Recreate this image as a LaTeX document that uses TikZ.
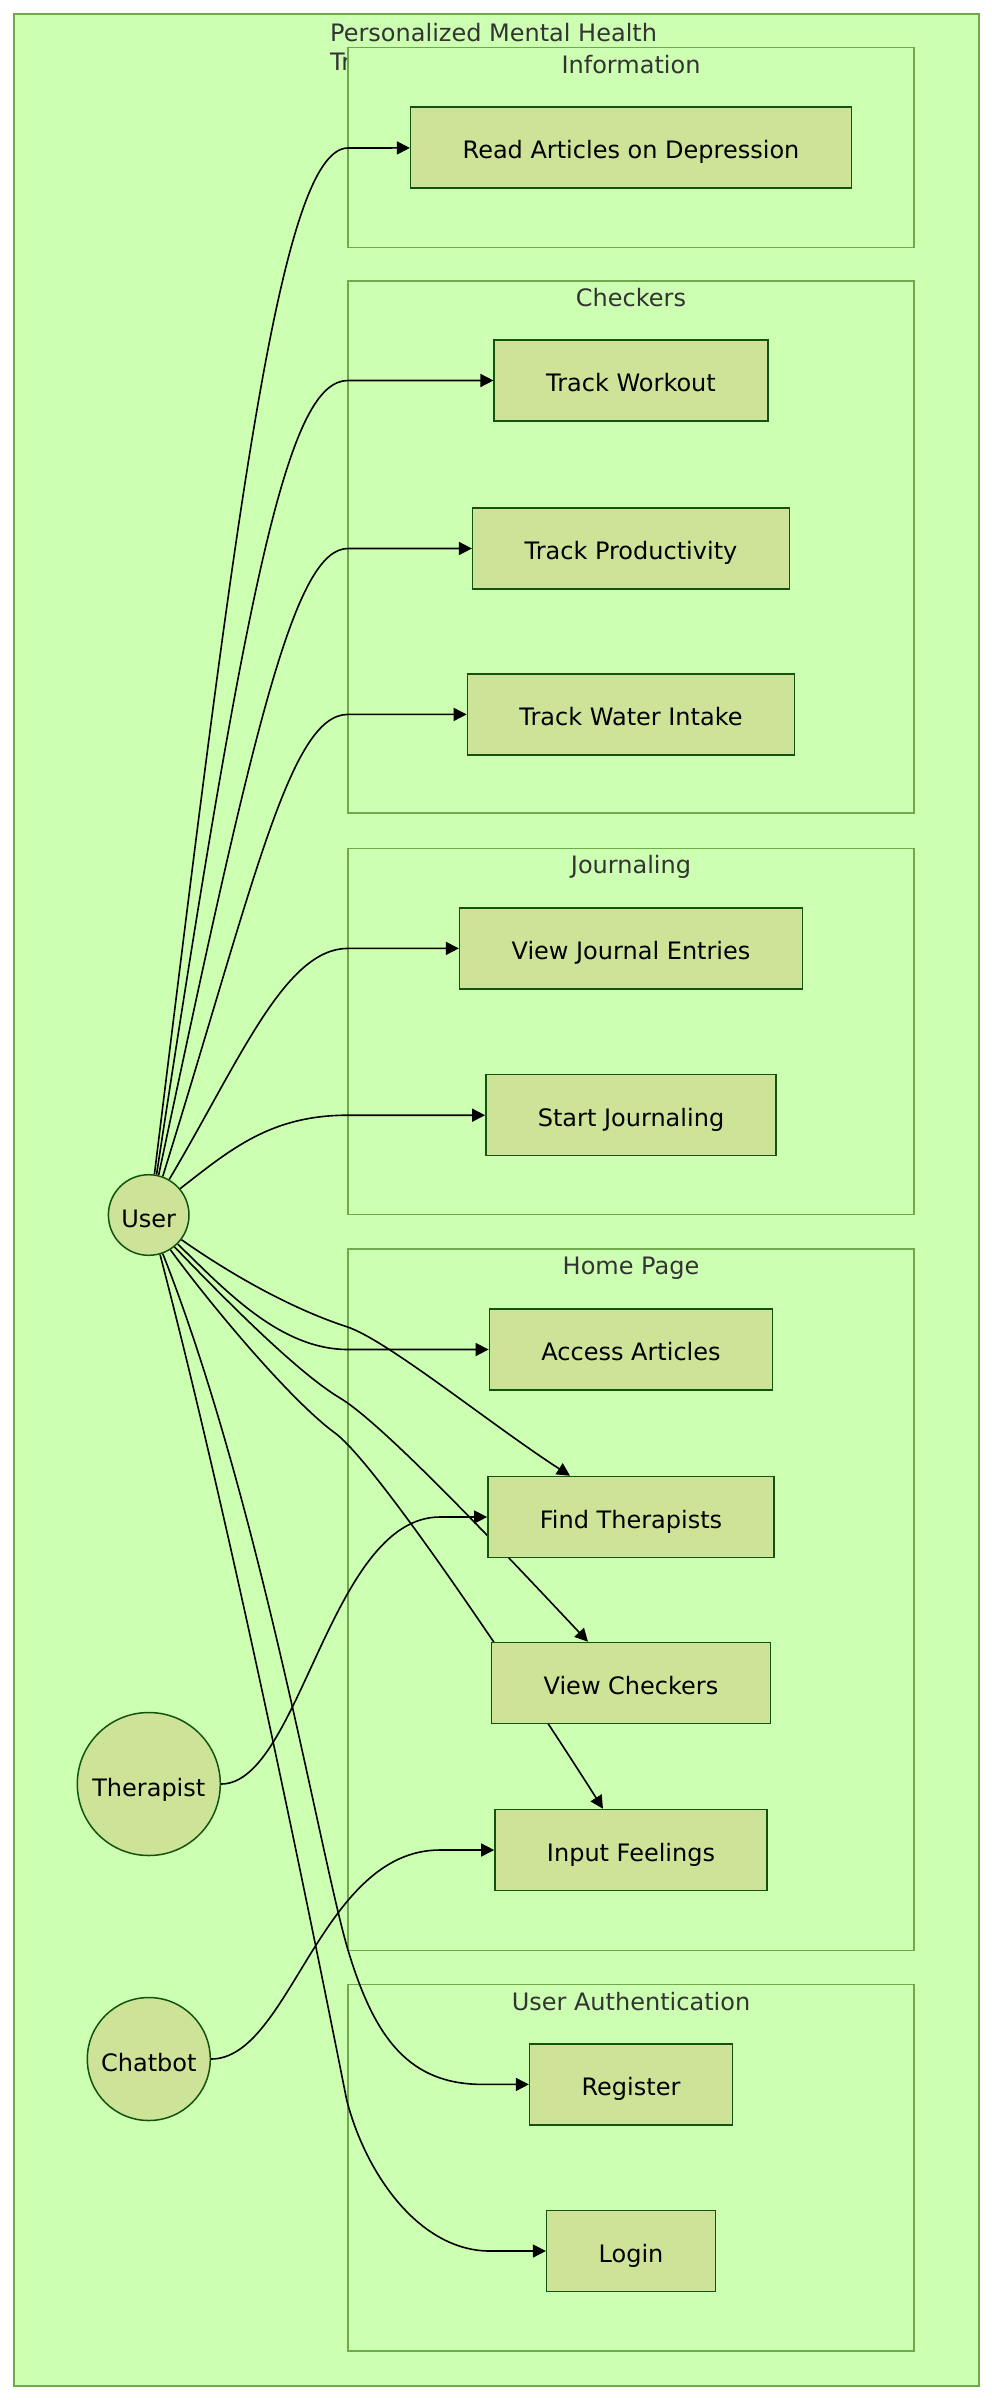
\documentclass[tikz,border=0pt]{standalone}
\usepackage{fontspec}
\setmainfont{DejaVu Sans}
\usetikzlibrary{arrows.meta,calc}
\definecolor{clusterfill}{HTML}{CDFFB2}
\definecolor{clusterline}{HTML}{6EAA49}
\definecolor{nodefill}{HTML}{CDE498}
\definecolor{nodeline}{HTML}{13540C}
\definecolor{labeltext}{HTML}{333333}
\pgfdeclarelayer{bg}
\pgfdeclarelayer{edges}
\pgfsetlayers{bg,edges,main}
\tikzset{
  bigfont/.style={font=\fontsize{24}{29}\selectfont},
  cluster/.style={draw=clusterline, fill=clusterfill, line width=1.5pt, minimum width=566pt, inner sep=0pt},
  clusterlabel/.style={bigfont, text=labeltext, anchor=north, inner sep=0pt, yshift=-8pt},
  box/.style={bigfont, draw=nodeline, fill=nodefill, line width=1.5pt, minimum height=81pt, inner xsep=52pt, text height=24pt, text depth=2pt},
  actor/.style={bigfont, circle, draw=nodeline, fill=nodefill, line width=1.5pt, inner sep=0pt, text height=24pt, text depth=0pt},
  link/.style={line width=1.6pt, -{Triangle[length=13pt,width=13pt]}},
}
\begin{document}
\begin{tikzpicture}[x=1pt, y=-1pt]
	\useasboundingbox (0,0) rectangle (992,2400);
	% Containers
	\begin{pgfonlayer}{bg}
		\draw[draw=clusterline, fill=clusterfill, line width=1.5pt] (14,14) rectangle (979,2386);
		\node[bigfont, text=labeltext, anchor=north west, inner sep=0pt, align=left] (title) at (330,23) {Personalized Mental Health\\Tracker};
		\node[cluster, minimum height=200pt] (info) at (631,147.5) {};
		\node[cluster, minimum height=532pt] (chk) at (631,547) {};
		\node[cluster, minimum height=366pt] (jour) at (631,1031.3) {};
		\node[cluster, minimum height=701.5pt] (home) at (631,1599.8) {};
		\node[cluster, minimum height=366.6pt] (auth) at (631,2167.7) {};
		\node[clusterlabel] at (info.north) {Information};
		\node[clusterlabel] at (chk.north) {Checkers};
		\node[clusterlabel] at (jour.north) {Journaling};
		\node[clusterlabel] at (home.north) {Home Page};
		\node[clusterlabel] at (auth.north) {User Authentication};
	\end{pgfonlayer}
	% Actors
	\node[actor, minimum size=80.6pt] (user) at (148.7,1215) {User};
	\node[actor, minimum size=143pt] (ther) at (148.8,1784) {Therapist};
	\node[actor, minimum size=123pt] (chat) at (148.8,2059) {Chatbot};
	% Features
	\node[box] (readart) at (631,147.7) {Read Articles on Depression};
	\node[box] (trackwork) at (631,380.5) {Track Workout};
	\node[box] (trackprod) at (631,548.5) {Track Productivity};
	\node[box] (trackwater) at (631,714.4) {Track Water Intake};
	\node[box] (viewjour) at (631,948.4) {View Journal Entries};
	\node[box] (startjour) at (631,1115.2) {Start Journaling};
	\node[box] (accart) at (631,1349.5) {Access Articles};
	\node[box] (findther) at (631,1517) {Find Therapists};
	\node[box] (viewchk) at (631,1683) {View Checkers};
	\node[box] (inputfeel) at (631,1850) {Input Feelings};
	\node[box] (register) at (631,2084.4) {Register};
	\node[box] (login) at (631,2251) {Login};
	% Connections
	\begin{pgfonlayer}{edges}
		\draw[link] (user.82) .. controls (235,520) and (280,148) .. (348,148) -- (readart);
		\draw[link] (user.79) .. controls (250,560) and (290,380.5) .. (348,380.5) -- (trackwork);
		\draw[link] (user.76) .. controls (255,720) and (295,548.5) .. (348,548.5) -- (trackprod);
		\draw[link] (user.70) .. controls (255,880) and (290,714.4) .. (348,714.4) -- (trackwater);
		\draw[link] (user.60) .. controls (240,1060) and (285,948.4) .. (348,948.4) -- (viewjour);
		\draw[link] (user.40) .. controls (230,1150) and (270,1115.2) .. (348,1115.2) -- (startjour);
		\draw[link] (user.-45) .. controls (225,1290) and (280,1349.5) .. (348,1349.5) -- (accart);
		\draw[link] (user.-37) .. controls (231.7,1275) and (291.7,1308.7) .. (346.7,1326.7)
			.. controls (386.7,1339.7) and (490,1424) .. ($(findther.north)+(-61,0)$);
		\draw[link] (user.-51) .. controls (219,1293) and (295,1371) .. (340,1398)
			.. controls (385,1425) and (513,1562) .. ($(viewchk.north)+(-43,0)$);
		\draw[link] (user.-58) .. controls (210,1304) and (290,1400) .. (335,1433)
			.. controls (380,1466) and (543,1714) .. ($(inputfeel.north)+(-28,0)$);
		\draw[link] (user.-70) .. controls (260,1500) and (321,1860) .. (348,1950)
			.. controls (375,2040) and (410,2084.4) .. (483,2084.4) -- (register);
		\draw[link] (user.-74) .. controls (240,1560) and (331.7,2025) .. (346.7,2100)
			.. controls (366,2175) and (420,2251) .. (490,2251) -- (login);
		\draw[link] (ther) .. controls (300,1784) and (330,1517) .. (440,1517) -- (findther);
		\draw[link] (chat) .. controls (290,2059) and (320,1850) .. (440,1850) -- (inputfeel);
	\end{pgfonlayer}
\end{tikzpicture}
\end{document}
